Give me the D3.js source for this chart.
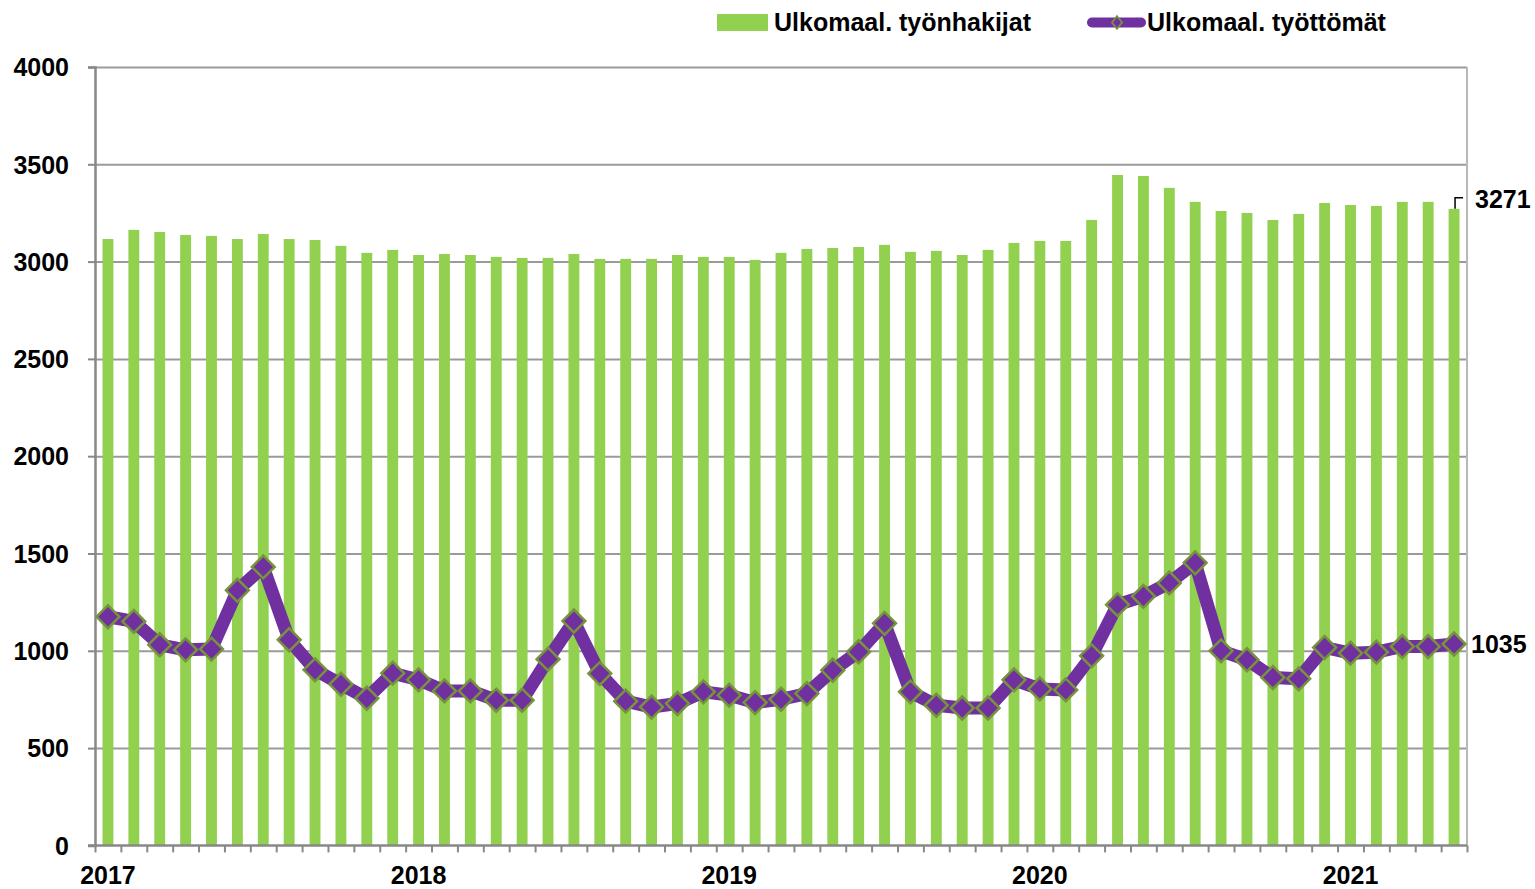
<!DOCTYPE html>
<html>
<head>
<meta charset="utf-8">
<script src="https://cdn.jsdelivr.net/npm/d3@7"></script>
<style>
  body { margin: 0; background: #fff; }
  text { font-family: "Liberation Sans", Arial, sans-serif; font-weight: bold; fill: #000; }
</style>
</head>
<body>
<div id="chart"></div>
<script>
const years = ['2017', '2018', '2019', '2020', '2021'];
const months = ['01', '02', '03', '04', '05', '06', '07', '08', '09', '10', '11', '12'];
const categories = years.flatMap((y) => months.map((m) => `${y}-${m}`)).slice(0, 53);

// Ulkomaal. työnhakijat (bars)
const applicants = [
  3116, 3163, 3152, 3137, 3132, 3116, 3142, 3116, 3111, 3081, 3045, 3060,
  3034, 3039, 3034, 3024, 3019, 3019, 3039, 3014, 3014, 3014, 3034, 3024,
  3024, 3009, 3045, 3065, 3070, 3075, 3086, 3050, 3055, 3034, 3060, 3096,
  3106, 3106, 3214, 3445, 3440, 3379, 3307, 3260, 3250, 3214, 3245, 3301,
  3291, 3286, 3307, 3307, 3271
];

// Ulkomaal. työttömät (line)
const unemployed = [
  1175, 1151, 1031, 1005, 1009, 1311, 1431, 1057, 902, 828, 756, 885,
  851, 794, 794, 746, 746, 957, 1153, 883, 741, 711, 729, 789,
  772, 734, 751, 780, 900, 995, 1141, 789, 720, 706, 706, 851,
  804, 799, 974, 1237, 1280, 1349, 1452, 1000, 954, 863, 856, 1017,
  988, 993, 1022, 1022, 1035
];

const yTicks = [0, 500, 1000, 1500, 2000, 2500, 3000, 3500, 4000];
const seriesNames = ['Ulkomaal. työnhakijat', 'Ulkomaal. työttömät'];

const W = 1535, H = 889;
const margin = { left: 95, right: 1467, top: 67, bottom: 845.4 };

const svg = d3.select('#chart').append('svg').attr('width', W).attr('height', H);

const x = d3.scaleBand().domain(categories).range([margin.left, margin.right]).padding(0);
const xb = d3.scaleLinear().domain([0, categories.length]).range([margin.left, margin.right]);
const y = d3.scaleLinear().domain([0, 4000]).range([margin.bottom, margin.top]);
const bw = x.bandwidth();
const cx = (c) => x(c) + bw / 2;

// gridlines
svg.append('g')
  .attr('transform', `translate(${margin.left},0)`)
  .call(d3.axisLeft(y).tickValues(yTicks.slice(1)).tickSize(-(margin.right - margin.left)).tickFormat(''))
  .call((g) => g.select('.domain').remove())
  .call((g) => g.selectAll('line').attr('stroke', '#9a9a9a').attr('stroke-width', 2));

// right border
svg.append('line')
  .attr('x1', margin.right).attr('x2', margin.right).attr('y1', margin.top).attr('y2', margin.bottom)
  .attr('stroke', '#b8b8b8').attr('stroke-width', 2);

// bars
svg.append('g').selectAll('rect')
  .data(applicants)
  .join('rect')
  .attr('x', (d, i) => cx(categories[i]) - bw * 0.21)
  .attr('width', bw * 0.42)
  .attr('y', (d) => y(d))
  .attr('height', (d) => y(0) - y(d))
  .attr('fill', '#92d050');

// y axis
const yAxis = svg.append('g')
  .attr('transform', `translate(${margin.left},0)`)
  .call(d3.axisLeft(y).tickValues(yTicks).tickFormat(d3.format('d')).tickSize(7).tickPadding(19));
yAxis.select('.domain').attr('stroke', '#888').attr('stroke-width', 2.5);
yAxis.selectAll('line').attr('stroke', '#888').attr('stroke-width', 2);
yAxis.selectAll('text').style('font-size', '25px').attr('dy', '0.35em');

// x axis
const xAxis = svg.append('g')
  .attr('transform', `translate(0,${margin.bottom})`)
  .call(d3.axisBottom(xb).tickValues(d3.range(categories.length + 1)).tickSize(7).tickFormat('').tickSizeOuter(0));
xAxis.select('.domain').attr('stroke', '#888').attr('stroke-width', 2.5)
  .attr('d', `M${margin.left - 7},0H${margin.right}`);
xAxis.selectAll('line').attr('stroke', '#888').attr('stroke-width', 2);

svg.append('g').selectAll('text')
  .data(years)
  .join('text')
  .attr('x', (d) => cx(`${d}-01`))
  .attr('y', 884)
  .attr('text-anchor', 'middle')
  .style('font-size', '25px')
  .text((d) => d);

// line
const line = d3.line()
  .x((d, i) => cx(categories[i]))
  .y((d) => y(d));

svg.append('path')
  .datum(unemployed)
  .attr('d', line)
  .attr('fill', 'none')
  .attr('stroke', '#7030a0')
  .attr('stroke-width', 13)
  .attr('stroke-linejoin', 'round');

const diamond = d3.symbol().type(d3.symbolSquare).size(260);

svg.append('g').selectAll('path')
  .data(unemployed)
  .join('path')
  .attr('d', diamond)
  .attr('transform', (d, i) => `translate(${cx(categories[i])},${y(d)}) rotate(45)`)
  .attr('fill', '#7030a0')
  .attr('stroke', '#77933c')
  .attr('stroke-width', 2.5);

// end labels
const last = categories.length - 1;
const lx = cx(categories[last]);
svg.append('path')
  .attr('d', `M${lx + 1},${y(applicants[last])}V${y(applicants[last]) - 11}H${lx + 9}`)
  .attr('fill', 'none')
  .attr('stroke', '#000')
  .attr('stroke-width', 1.5);
svg.append('text')
  .attr('x', 1475).attr('y', y(applicants[last]) - 1)
  .style('font-size', '25px')
  .text(applicants[last]);
svg.append('text')
  .attr('x', 1471).attr('y', y(unemployed[last]) + 9)
  .style('font-size', '25px')
  .text(unemployed[last]);

// legend
const legend = svg.append('g');
legend.append('rect')
  .attr('x', 717).attr('y', 14).attr('width', 51).attr('height', 17)
  .attr('fill', '#92d050');
legend.append('text')
  .attr('x', 774).attr('y', 31)
  .style('font-size', '25px')
  .text(seriesNames[0]);
legend.append('line')
  .attr('x1', 1092).attr('x2', 1141).attr('y1', 22.5).attr('y2', 22.5)
  .attr('stroke', '#7030a0').attr('stroke-width', 10).attr('stroke-linecap', 'round');
legend.append('path')
  .attr('d', d3.symbol().type(d3.symbolSquare).size(80))
  .attr('transform', 'translate(1117,22.5) scale(0.8,1) rotate(45)')
  .attr('fill', '#7030a0')
  .attr('stroke', '#77933c')
  .attr('stroke-width', 2);
legend.append('text')
  .attr('x', 1147).attr('y', 31)
  .style('font-size', '25px')
  .text(seriesNames[1]);
</script>
</body>
</html>
